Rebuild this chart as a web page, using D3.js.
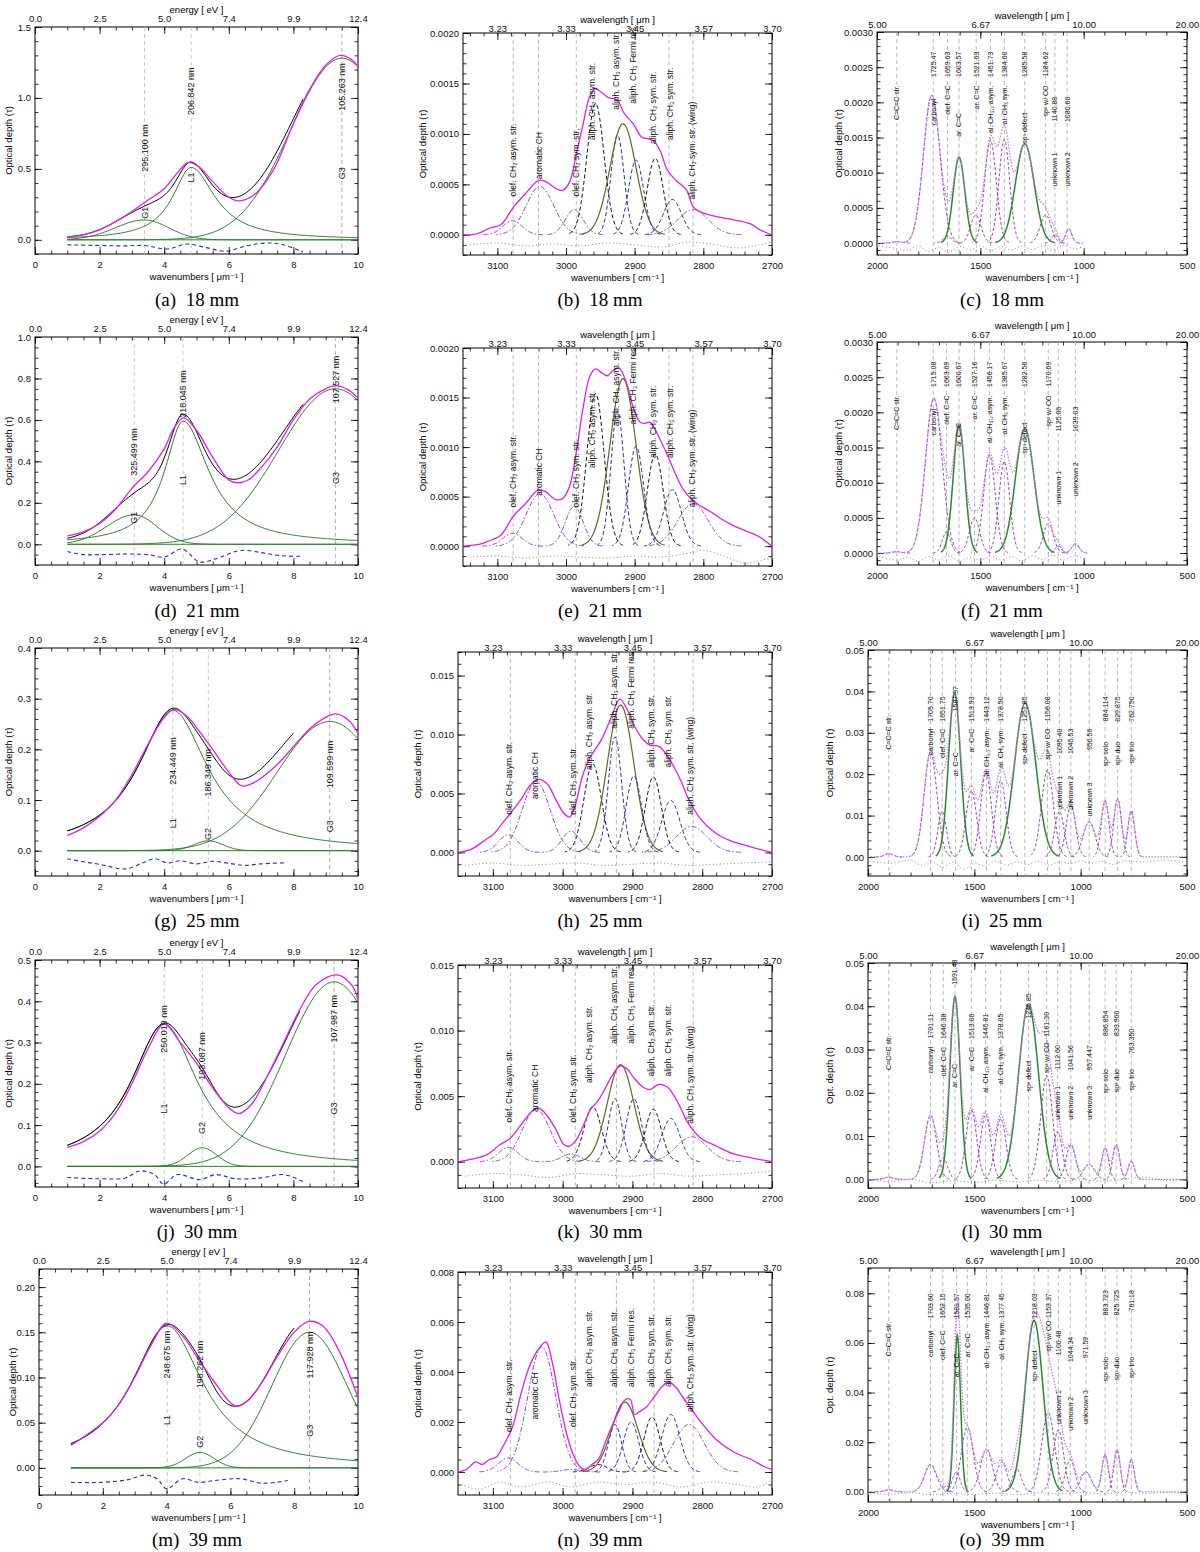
<!DOCTYPE html>
<html>
<head>
<meta charset="utf-8">
<script src="https://cdn.jsdelivr.net/npm/d3@7"></script>
<style>
  body { margin: 0; background: #fff; }
  .cap { font-family: "Liberation Serif", "DejaVu Serif", serif; font-size: 19px; }
</style>
</head>
<body>
<svg id="fig" width="1200" height="1552"></svg>
<script>
// ---------- column 1 : UV fits (x in 1/um) ----------
var uvTopVals = [0, 2, 4, 6, 8, 10];
var uvTopText = ["0.0", "2.5", "5.0", "7.4", "9.9", "12.4"];

// components: [type, centre, height, width(left), width(right)]
var aComp = [["G", 3.389, 0.14, 0.9, 0.75], ["L", 4.835, 0.51, 0.7, 0.9], ["G", 9.50, 1.28, 1.58]];
var aObs = [[1, 0.02], [1.5, 0.035], [2, 0.07], [2.5, 0.13], [3, 0.2], [3.4, 0.265], [4, 0.36], [4.4, 0.47], [4.75, 0.545], [5.1, 0.51], [5.5, 0.41], [6, 0.3], [6.3, 0.275], [6.8, 0.32], [7.4, 0.5], [8, 0.82], [8.5, 1.06], [9, 1.23], [9.45, 1.3], [9.8, 1.27], [10, 1.22]];
var aRes = [[1, -0.035], [2, -0.04], [2.8, -0.043], [3.4, -0.04], [4.1, -0.065], [4.7, -0.03], [5.3, -0.055], [5.9, -0.08], [6.5, -0.045], [7.1, -0.023], [7.6, -0.03], [8.3, -0.085]];
// marks: [x, wavelength label, name, label bottom, name centre]
var aMarks = [[3.389, "295.100 nm", "G1", 0.48, 0.19], [4.835, "206.842 nm", "L1", 0.88, 0.44], [9.50, "105.263 nm", "G3", 0.91, 0.47]];

var dComp = [["G", 3.072, 0.142, 0.85, 0.7], ["L", 4.586, 0.594, 0.7, 0.97], ["G", 9.30, 0.75, 1.75]];
var dObs = [[1, 0.04], [1.5, 0.06], [2, 0.1], [2.5, 0.17], [3, 0.27], [3.5, 0.35], [4, 0.46], [4.3, 0.56], [4.6, 0.61], [5, 0.55], [5.5, 0.42], [6, 0.31], [6.25, 0.297], [6.6, 0.31], [7, 0.37], [7.5, 0.47], [8, 0.6], [8.5, 0.7], [9, 0.75], [9.3, 0.765], [9.7, 0.745], [10, 0.705]];
var dRes = [[1, -0.035], [1.5, -0.05], [2, -0.05], [3, -0.047], [3.5, -0.05], [4, -0.062], [4.55, -0.023], [5.1, -0.085], [5.6, -0.07], [6.35, -0.03], [7, -0.04], [7.6, -0.055], [8.3, -0.058]];
var dMarks = [[3.072, "325.499 nm", "G1", 0.33, 0.128], [4.586, "218.045 nm", "L1", 0.61, 0.31], [9.30, "107.527 nm", "G3", 0.68, 0.32]];

var gComp = [["L", 4.265, 0.277, 1.32], ["G", 5.366, 0.0195, 0.45], ["G", 9.124, 0.255, 1.63]];
var gObs = [[1, 0.03], [1.5, 0.045], [2, 0.068], [2.5, 0.1], [3, 0.15], [3.5, 0.21], [4, 0.263], [4.3, 0.279], [4.7, 0.266], [5, 0.243], [5.5, 0.2], [6, 0.155], [6.4, 0.128], [6.8, 0.135], [7.5, 0.17], [8, 0.205], [8.5, 0.24], [9, 0.263], [9.3, 0.27], [9.7, 0.258], [10, 0.232]];
var gRes = [[1, -0.016], [1.5, -0.022], [2, -0.027], [2.8, -0.036], [3.3, -0.025], [3.7, -0.016], [4.1, -0.024], [4.5, -0.02], [5, -0.026], [5.5, -0.021], [6, -0.025], [6.5, -0.029], [7, -0.026], [7.8, -0.024]];
var gMarks = [[4.265, "234.449 nm", "L1", 0.13, 0.054], [5.366, "186.349 nm", "G2", 0.107, 0.033], [9.124, "109.599 nm", "G3", 0.123, 0.048]];

var jComp = [["L", 4.0, 0.345, 1.25], ["G", 5.179, 0.045, 0.45], ["G", 9.26, 0.447, 1.5]];
var jObs = [[1, 0.046], [1.5, 0.06], [2, 0.085], [2.5, 0.13], [3, 0.2], [3.5, 0.285], [4, 0.345], [4.5, 0.3], [5, 0.25], [5.5, 0.19], [6, 0.142], [6.3, 0.128], [6.7, 0.15], [7.2, 0.22], [7.7, 0.3], [8.2, 0.38], [8.7, 0.44], [9.35, 0.464], [9.8, 0.44], [10, 0.405]];
var jRes = [[1, -0.027], [2, -0.03], [2.8, -0.028], [3.25, -0.011], [3.7, -0.02], [3.98, -0.043], [4.4, -0.02], [5.1, -0.032], [5.6, -0.02], [6.2, -0.03], [7, -0.028], [7.7, -0.02], [8.3, -0.037]];
var jMarks = [[4.0, "250.019 nm", "L1", 0.275, 0.14], [5.179, "193.087 nm", "G2", 0.21, 0.093], [9.26, "107.987 nm", "G3", 0.30, 0.14]];

var mComp = [["L", 4.021, 0.157, 1.37], ["G", 5.044, 0.017, 0.45], ["G", 8.48, 0.15, 1.18]];
var mObs = [[1, 0.025], [2, 0.05], [2.5, 0.07], [3, 0.1], [3.5, 0.135], [4, 0.16], [4.5, 0.146], [5, 0.12], [5.5, 0.095], [6, 0.072], [6.2, 0.068], [6.6, 0.076], [7, 0.095], [7.5, 0.125], [8, 0.15], [8.45, 0.162], [8.9, 0.157], [9.4, 0.13], [10, 0.078]];
var mRes = [[1, -0.016], [2, -0.016], [2.8, -0.013], [3.3, -0.008], [3.7, -0.012], [4, -0.023], [4.5, -0.012], [5, -0.016], [5.5, -0.014], [6.3, -0.012], [7, -0.017], [7.8, -0.014]];
var mMarks = [[4.021, "248.675 nm", "L1", 0.099, 0.053], [5.044, "198.262 nm", "G2", 0.088, 0.029], [8.48, "117.928 nm", "G3", 0.099, 0.041]];

// ---------- column 2 : 3.4 um CH stretch region (cm-1) ----------
var chTopVals = [3100, 3000, 2900, 2800, 2700];
var chTopText = ["3.23", "3.33", "3.45", "3.57", "3.70"];
var chNames = ["olef. CH₂ asym. str.", "aromatic CH", "olef. CH₂ sym. str.", "aliph. CH₂ asym. str.", "aliph. CH₃ asym. str.", "aliph. CH₃ Fermi res.", "aliph. CH₂ sym. str.", "aliph. CH₃ sym. str.", "aliph. CH₂ sym. str. (wing)"];
var chNameX = [3077, 3040, 2985, 2962, 2927, 2902, 2873, 2849, 2817];
var chPos = [3078, 3038, 2988, 2957, 2925, 2917, 2898, 2870, 2845, 2815];
var nPos = [3078, 3030, 2988, 2949, 2925, 2911, 2902, 2872, 2845, 2819];
var chSig = [14, 20, 13, 12.5, 9.5, 19, 11, 11.5, 13, 22];
var chKind = ["pd", "pd", "pd", "kd", "bd", "ol", "bd", "kd", "bd", "pd"];
var chLinesA = [3077, 3040, 2985, 2850, 2815];
var chLinesB = [3075, 2982, 2923, 2869, 2813];

var bHeights = [0.00014, 0.00048, 0.00025, 0.0013, 0.00099, 0.0011, 0.00074, 0.00076, 0.00035, 0.00025];
var bObs = [[3150, 0], [3130, 0.00001], [3110, 0.00007], [3095, 0.0001], [3076, 0.00028], [3060, 0.0004], [3040, 0.00054], [3030, 0.00053], [3015, 0.00046], [3005, 0.00044], [2995, 0.00052], [2985, 0.0008], [2975, 0.0011], [2965, 0.00138], [2957, 0.00145], [2948, 0.00141], [2938, 0.00136], [2926, 0.00134], [2915, 0.0012], [2902, 0.0011], [2890, 0.00097], [2880, 0.00095], [2872, 0.00093], [2862, 0.00082], [2853, 0.00065], [2840, 0.00054], [2825, 0.00045], [2815, 0.00028], [2805, 0.00023], [2781, 0.00018], [2757, 0.00015], [2732, 0.00011], [2718, 0.00005], [2700, 0]];
var bRes = [[3140, -0.0001], [3100, -0.00008], [3060, -0.00011], [3020, -0.00009], [2980, -0.00011], [2940, -0.00008], [2900, -0.0001], [2860, -0.00012], [2820, -0.00007], [2790, -0.00009], [2750, -0.00013], [2720, -0.0001], [2700, -0.00007]];
var bNameY = [0.00038, 0.00055, 0.00038, 0.00094, 0.00124, 0.0013, 0.0009, 0.00094, 0.00035];

var eHeights = [0.00013, 0.00053, 0.0004, 0.00154, 0.00137, 0.00169, 0.00101, 0.00093, 0.00057, 0.00043];
var eObs = [[3150, 0], [3125, 0.00002], [3110, 0.00006], [3095, 0.00011], [3076, 0.00031], [3060, 0.00042], [3040, 0.00057], [3030, 0.00055], [3015, 0.00047], [3005, 0.00048], [2995, 0.0006], [2985, 0.00095], [2975, 0.0014], [2965, 0.00172], [2957, 0.00179], [2948, 0.00175], [2940, 0.00172], [2932, 0.00177], [2923, 0.0018], [2912, 0.00165], [2902, 0.0014], [2892, 0.00125], [2885, 0.00124], [2877, 0.00125], [2866, 0.00112], [2853, 0.00093], [2840, 0.00072], [2829, 0.00057], [2815, 0.00046], [2805, 0.00041], [2790, 0.00035], [2775, 0.00028], [2757, 0.00021], [2740, 0.00016], [2720, 0.0001], [2700, 0]];
var eRes = [[3140, -0.00011], [3100, -0.0001], [3060, -0.00012], [3020, -0.0001], [2980, -0.00011], [2940, -0.00012], [2900, -0.0001], [2860, -0.00011], [2815, -0.00006], [2800, -0.00004], [2770, -0.0001], [2740, -0.00017], [2700, -0.00011]];
var eNameY = [0.00039, 0.00051, 0.00039, 0.00079, 0.00121, 0.00123, 0.00089, 0.00089, 0.00039];

var hHeights = [0.0015, 0.006, 0.0018, 0.0075, 0.0098, 0.0125, 0.0065, 0.0064, 0.0044, 0.0022];
var hObs = [[3150, 0], [3130, 0.0003], [3110, 0.0011], [3100, 0.0015], [3086, 0.0025], [3062, 0.0043], [3045, 0.0058], [3034, 0.0062], [3022, 0.0058], [3010, 0.0045], [2998, 0.0033], [2990, 0.003], [2982, 0.004], [2972, 0.0064], [2963, 0.0078], [2955, 0.0086], [2945, 0.0095], [2930, 0.0115], [2918, 0.013], [2905, 0.0118], [2897, 0.0107], [2885, 0.0096], [2875, 0.0091], [2862, 0.009], [2850, 0.0082], [2840, 0.0072], [2830, 0.006], [2821, 0.0047], [2802, 0.0028], [2780, 0.0016], [2760, 0.001], [2732, 0.0005], [2700, 0]];
var hRes = [[3140, -0.0011], [3100, -0.0009], [3060, -0.0011], [3020, -0.001], [2980, -0.0009], [2940, -0.0011], [2900, -0.001], [2860, -0.0009], [2820, -0.0011], [2780, -0.001], [2740, -0.0009], [2700, -0.0008]];
var hNameY = [0.0032, 0.0045, 0.0032, 0.007, 0.0105, 0.0105, 0.0072, 0.0072, 0.0032];

var kHeights = [0.0011, 0.004, 0.0006, 0.0042, 0.0048, 0.0074, 0.0048, 0.004, 0.0033, 0.0019];
var kObs = [[3150, 0], [3130, 0.0002], [3110, 0.0005], [3090, 0.0013], [3075, 0.0018], [3060, 0.0028], [3045, 0.0038], [3036, 0.0041], [3025, 0.0037], [3010, 0.0025], [2998, 0.0013], [2990, 0.0012], [2980, 0.0017], [2970, 0.0028], [2960, 0.004], [2950, 0.0046], [2940, 0.0055], [2930, 0.0065], [2918, 0.0073], [2908, 0.0071], [2898, 0.0064], [2885, 0.0057], [2875, 0.0055], [2862, 0.0059], [2850, 0.0057], [2840, 0.005], [2830, 0.004], [2821, 0.003], [2802, 0.0018], [2780, 0.0012], [2755, 0.0006], [2730, 0.0003], [2700, 0]];
var kRes = [[3140, -0.0011], [3100, -0.0009], [3060, -0.001], [3020, -0.0012], [2980, -0.0009], [2940, -0.001], [2900, -0.0011], [2860, -0.0009], [2820, -0.0011], [2780, -0.001], [2740, -0.0009], [2700, -0.0007]];
var kNameY = [0.003, 0.0038, 0.003, 0.006, 0.009, 0.009, 0.0065, 0.0065, 0.0029];

var nHeights = [0.00056, 0.005, 0.0001, 0.0003, 0.0019, 0.0028, 0.002, 0.0022, 0.0023, 0.0019];
var nObs = [[3150, 0], [3138, 0.0001], [3125, 0.0004], [3115, 0.0003], [3105, 0.0005], [3095, 0.0006], [3086, 0.001], [3072, 0.0018], [3060, 0.0031], [3048, 0.0042], [3035, 0.0049], [3024, 0.0052], [3015, 0.0044], [3005, 0.0029], [2995, 0.0016], [2985, 0.0007], [2975, 0.0002], [2968, 0.0001], [2958, 0.0003], [2949, 0.0005], [2940, 0.0011], [2930, 0.0018], [2920, 0.0024], [2910, 0.0029], [2903, 0.0029], [2897, 0.0023], [2891, 0.0024], [2880, 0.0026], [2869, 0.003], [2858, 0.0034], [2848, 0.0036], [2838, 0.0034], [2828, 0.003], [2815, 0.0025], [2802, 0.002], [2780, 0.0013], [2755, 0.0008], [2730, 0.0005], [2710, 0.0002], [2700, 0.0001]];
var nRes = [[3145, -0.0005], [3120, -0.0007], [3090, -0.0004], [3060, -0.0006], [3020, -0.0004], [2990, -0.0006], [2950, -0.0004], [2910, -0.0005], [2870, -0.0004], [2830, -0.0006], [2790, -0.0004], [2750, -0.0005], [2720, -0.0006], [2700, -0.0003]];
var nNameY = [0.0016, 0.0021, 0.0018, 0.0034, 0.0034, 0.0034, 0.0034, 0.0034, 0.0024];

// ---------- column 3 : 5-20 um region (cm-1) ----------
var irTopVals = [2000, 1500, 1000, 500];
var irTopText = ["5.00", "6.67", "10.00", "20.00"];
// components: [centre, height, sigma, green?]
var cComp = [[1904, 0.00002, 20, 0], [1735, 0.0021, 40, 0], [1660, 0.0001, 20, 0], [1603, 0.00122, 28, 1], [1522, 0.0004, 25, 0], [1451, 0.00146, 28, 0], [1384, 0.00147, 26, 0], [1285, 0.00141, 45, 1], [1184, 0.0004, 26, 0], [1139, 0.00012, 15, 0], [1072, 0.0002, 15, 0]];
var cRes = [[1990, -0.00004], [1900, -0.00008], [1850, -0.0001], [1800, -0.00004], [1750, -0.00012], [1700, -0.00006], [1650, -0.00013], [1600, -0.00005], [1550, -0.0001], [1500, -0.00004], [1450, -0.00011], [1400, -0.00005], [1350, -0.0001], [1300, -0.00004], [1250, -0.00009], [1200, -0.00004], [1150, -0.0001], [1100, -0.00003], [1050, -0.00008], [1000, -0.00005]];
// labels: [x, number, name, number top, name top]
var cLab = [[1904, "", "C=C=C str.", 0, 0.00224], [1728, "1725.47", "carbonyl", 0.00272, 0.00205], [1659, "1659.63", "olef. C=C", 0.00272, 0.00224], [1603, "1603.57", "ar. C=C", 0.00272, 0.00185], [1520, "1521.63", "ar. C=C", 0.00272, 0.00224], [1451, "1451.73", "al. CH₃,₂ asym.", 0.00272, 0.00224], [1384, "1384.60", "al. CH₃ sym.", 0.00272, 0.00224], [1285, "1285.58", "sp³ defect", 0.00272, 0.00185], [1184, "1184.62", "sp² w/ CO", 0.00272, 0.00224], [1139, "1140.88", "unknown 1", 0.00208, 0.00129], [1080, "1080.60", "unknown 2", 0.00208, 0.00129]];

var fComp = [[1904, 0.00002, 20, 0], [1725, 0.0022, 40, 0], [1664, 0.0003, 20, 0], [1603, 0.00182, 28, 1], [1528, 0.0005, 25, 0], [1456, 0.00139, 28, 0], [1384, 0.0013, 26, 0], [1285, 0.00177, 45, 1], [1171, 0.00042, 24, 0], [1123, 0.0001, 15, 0], [1040, 0.00013, 18, 0]];
var fRes = [[1990, -0.00005], [1900, -0.0001], [1850, -0.00006], [1800, -0.00012], [1750, -0.00005], [1700, -0.0001], [1650, -0.00004], [1600, -0.00012], [1550, -0.00006], [1500, -0.0001], [1450, -0.00004], [1400, -0.0001], [1350, -0.00005], [1300, -0.00011], [1250, -0.00004], [1200, -0.00009], [1150, -0.00003], [1100, -0.0001], [1050, -0.00004], [1000, -0.00007]];
var fLab = [[1904, "", "C=C=C str.", 0, 0.00224], [1728, "1715.08", "carbonyl", 0.00272, 0.00205], [1664, "1663.69", "olef. C=C", 0.00272, 0.00224], [1603, "1600.67", "ar. C=C", 0.00272, 0.00185], [1528, "1527.16", "ar. C=C", 0.00272, 0.00224], [1456, "1456.17", "al. CH₃,₂ asym.", 0.00272, 0.00224], [1384, "1385.67", "al. CH₃ sym.", 0.00272, 0.00224], [1285, "1282.56", "sp³ defect", 0.00272, 0.00185], [1171, "1170.69", "sp² w/ CO", 0.00272, 0.00224], [1123, "1125.06", "unknown 1", 0.00208, 0.00117], [1040, "1039.03", "unknown 2", 0.00208, 0.00129]];

var iComp = [[1902, 0.0008, 20, 0], [1706, 0.0253, 30, 0], [1651, 0.011, 20, 0], [1593, 0.0396, 28, 1], [1514, 0.016, 25, 0], [1445, 0.0205, 25, 0], [1376, 0.0185, 25, 0], [1261, 0.0372, 50, 1], [1156, 0.021, 28, 0], [1100, 0.011, 22, 0], [1046, 0.0125, 22, 0], [960, 0.0085, 28, 0], [885, 0.0135, 18, 0], [826, 0.014, 18, 0], [762, 0.0112, 16, 0]];
var iRes = [[1990, -0.001], [1900, -0.0015], [1800, -0.0008], [1750, -0.002], [1700, -0.001], [1650, -0.0025], [1600, -0.0012], [1550, -0.003], [1500, -0.0015], [1450, -0.0022], [1400, -0.001], [1350, -0.002], [1300, -0.0012], [1250, -0.0018], [1200, -0.001], [1150, -0.002], [1100, -0.0012], [1050, -0.0016], [1000, -0.001], [950, -0.0015], [900, -0.001], [850, -0.0018], [800, -0.001], [700, -0.0012], [600, -0.0008], [520, -0.0012]];
var iLab = [[1902, "", "C=C=C str.", 0, 0.0343], [1706, "1705.70", "carbonyl", 0.0388, 0.031], [1651, "1651.75", "olef. C=C", 0.0388, 0.031], [1588, "1587.97", "ar. C=C", 0.0413, 0.0253], [1514, "1513.93", "ar. C=C", 0.0388, 0.031], [1443, "1443.12", "al. CH₃,₂ asym.", 0.0388, 0.031], [1376, "1378.50", "al. CH₃ sym.", 0.0388, 0.031], [1263, "1251.85", "sp³ defect", 0.0388, 0.0298], [1156, "1156.08", "sp² w/ CO", 0.0388, 0.031], [1100, "1095.40", "unknown 1", 0.031, 0.0196], [1046, "1045.53", "unknown 2", 0.031, 0.0196], [960, "956.56", "unknown 3", 0.031, 0.018], [885, "884.114", "sp² solo", 0.0388, 0.0278], [826, "829.875", "sp² duo", 0.0388, 0.0278], [762, "762.750", "sp² trio", 0.0388, 0.0278]];

var lComp = [[1902, 0.0005, 20, 0], [1706, 0.0148, 28, 0], [1646, 0.005, 20, 0], [1591, 0.0422, 24, 1], [1514, 0.016, 25, 0], [1447, 0.015, 24, 0], [1376, 0.014, 25, 0], [1245, 0.0403, 47, 1], [1160, 0.024, 28, 0], [1108, 0.011, 22, 0], [1046, 0.008, 22, 0], [960, 0.0035, 25, 0], [885, 0.0072, 16, 0], [833, 0.008, 16, 0], [762, 0.0042, 15, 0]];
var lRes = [[1990, 0], [1900, -0.0005], [1800, 0], [1700, -0.0008], [1600, -0.0003], [1500, -0.0007], [1400, -0.0002], [1300, -0.0006], [1200, -0.0002], [1100, -0.0005], [1000, -0.0001], [900, -0.0004], [800, 0], [700, 0.0005], [650, 0.0002], [600, -0.0003], [520, 0]];
var lLab = [[1902, "", "C=C=C str.", 0, 0.0333], [1706, "1701.11", "carbonyl", 0.0383, 0.0306], [1646, "1646.38", "olef. C=C", 0.0383, 0.0306], [1591, "1591.48", "ar. C=C", 0.0508, 0.0267], [1514, "1513.06", "ar. C=C", 0.0383, 0.0306], [1447, "1445.81", "al. CH₃,₂ asym.", 0.0383, 0.031], [1376, "1378.05", "al. CH₃ sym.", 0.0383, 0.031], [1245, "1245.85", "sp³ defect", 0.043, 0.0274], [1160, "1161.30", "sp² w/ CO", 0.0387, 0.0317], [1108, "1112.60", "unknown 1", 0.031, 0.0216], [1046, "1041.56", "unknown 2", 0.031, 0.0216], [960, "957.447", "unknown 3", 0.031, 0.0216], [885, "886.854", "sp² solo", 0.039, 0.0255], [833, "833.960", "sp² duo", 0.039, 0.0255], [762, "763.350", "sp² trio", 0.0348, 0.0255]];

var oComp = [[1902, 0.0008, 20, 0], [1706, 0.011, 28, 0], [1648, 0.002, 15, 0], [1580, 0.063, 15, 1], [1585, 0.008, 18, 0], [1533, 0.026, 28, 0], [1443, 0.017, 28, 0], [1371, 0.012, 25, 0], [1300, 0.009, 22, 0], [1219, 0.069, 42, 1], [1153, 0.032, 30, 0], [1105, 0.025, 25, 0], [1049, 0.013, 22, 0], [975, 0.008, 25, 0], [885, 0.015, 15, 0], [829, 0.017, 15, 0], [762, 0.013, 14, 0]];
var oRes = [[1990, -0.0005], [1900, -0.001], [1800, -0.0004], [1700, -0.0012], [1600, -0.0006], [1500, -0.001], [1400, -0.0005], [1300, -0.0011], [1200, -0.0004], [1100, -0.0009], [1000, -0.0003], [900, -0.0008], [800, -0.0002], [700, -0.0006], [600, -0.0003], [520, -0.0005]];
var oLab = [[1902, "", "C=C=C str.", 0, 0.0685], [1706, "1703.60", "carbonyl", 0.08, 0.065], [1648, "1652.15", "olef. C=C", 0.08, 0.065], [1583, "1581.57", "ar. C=C", 0.08, 0.0558], [1533, "1535.00", "ar. C=C", 0.08, 0.0638], [1443, "1446.81", "al. CH₃,₂ asym.", 0.08, 0.069], [1371, "1377.45", "al. CH₃ sym.", 0.08, 0.069], [1219, "1218.03", "sp³ defect", 0.08, 0.057], [1153, "1153.37", "sp² w/ CO", 0.08, 0.069], [1105, "1100.48", "unknown 1", 0.065, 0.041], [1049, "1044.34", "unknown 2", 0.0625, 0.0383], [975, "971.59", "unknown 3", 0.0625, 0.041], [885, "883.723", "sp² solo", 0.0813, 0.0544], [829, "825.725", "sp² duo", 0.0813, 0.0544], [762, "761.18", "sp² trio", 0.0813, 0.0544]];

// ---------- drawing ----------
var FONT = "Liberation Sans, DejaVu Sans, sans-serif";
var MAGENTA = "#e021e0", GREEN = "#2f7f2f";
var svg = d3.select("#fig");
var clipN = 0;

// gaussian / lorentzian profile, optionally with different left and right widths
function prof(c, v) {
  var t = c[0], x0 = c[1], h = c[2];
  var s = (c.length > 4 && v >= x0) ? c[4] : c[3];
  if (t === "L") { var u = (v - x0) / s; return h / (1 + u * u); }
  return h * Math.exp(-(v - x0) * (v - x0) / (2 * s * s));
}

function steps(dom, st) {
  var lo = Math.min(dom[0], dom[1]), hi = Math.max(dom[0], dom[1]), out = [];
  for (var k = Math.ceil(lo / st - 1e-9); k <= Math.floor(hi / st + 1e-9); k++) out.push(+(k * st).toFixed(8));
  return out;
}

function frame(b, o) {
  var x0 = b[0], y0 = b[1], x1 = b[2], y1 = b[3];
  var g = svg.append("g");
  var x = d3.scaleLinear().domain(o.xdom).range([x0, x1]);
  var y = d3.scaleLinear().domain(o.ydom).range([y1, y0]);
  var xm = steps(o.xdom, o.xStep), ym = steps(o.ydom, o.yStep);
  function tidy(s) {
    s.attr("font-family", FONT).attr("font-size", 9.5);
    s.select(".domain").remove();
    s.selectAll("line").attr("stroke", "#000").attr("stroke-width", 0.8);
    s.selectAll("text").attr("fill", "#111");
  }
  function ax(gen, tx, ty) { g.append("g").attr("transform", "translate(" + tx + "," + ty + ")").call(gen).call(tidy); }
  ax(d3.axisBottom(x).tickValues(o.xMajor).tickSize(-7).tickPadding(7).tickFormat(d3.format("d")), 0, y1);
  ax(d3.axisBottom(x).tickValues(xm).tickSize(-3.5).tickFormat(""), 0, y1);
  ax(d3.axisTop(x).tickValues(o.topVals).tickSize(-7).tickPadding(o.topPad).tickFormat(function (d, i) { return o.topText[i]; }), 0, y0);
  ax(d3.axisTop(x).tickValues(xm).tickSize(-3.5).tickFormat(""), 0, y0);
  ax(d3.axisLeft(y).tickValues(o.yMajor).tickSize(-7).tickPadding(4).tickFormat(d3.format(o.yFmt)), x0, 0);
  ax(d3.axisLeft(y).tickValues(ym).tickSize(-3.5).tickFormat(""), x0, 0);
  ax(d3.axisRight(y).tickValues(o.yMajor).tickSize(-7).tickFormat(""), x1, 0);
  ax(d3.axisRight(y).tickValues(ym).tickSize(-3.5).tickFormat(""), x1, 0);
  g.append("rect").attr("x", x0).attr("y", y0).attr("width", x1 - x0).attr("height", y1 - y0)
    .attr("fill", "none").attr("stroke", "#000").attr("stroke-width", 1);
  g.append("text").attr("x", (x0 + x1) / 2).attr("y", y1 + 26).attr("text-anchor", "middle")
    .attr("font-family", FONT).attr("font-size", 9.5).text(o.xTitle);
  g.append("text").attr("x", (x0 + x1) / 2).attr("y", y0 - o.topTitleOff).attr("text-anchor", "middle")
    .attr("font-family", FONT).attr("font-size", 9.5).text(o.topTitle);
  g.append("text").attr("transform", "translate(" + (x0 - o.yTitleOff) + "," + ((y0 + y1) / 2) + ") rotate(-90)")
    .attr("text-anchor", "middle").attr("dy", "0.35em").attr("font-family", FONT).attr("font-size", 9.5).text(o.yTitle);
  var id = "clip" + (clipN++);
  svg.append("clipPath").attr("id", id).append("rect").attr("x", x0).attr("y", y0).attr("width", x1 - x0).attr("height", y1 - y0);
  var plot = g.append("g").attr("clip-path", "url(#" + id + ")");
  return { g: g, plot: plot, x: x, y: y };
}

function vline(sel, px, b, col) {
  sel.append("line").attr("x1", px).attr("x2", px).attr("y1", b[1]).attr("y2", b[3])
    .attr("stroke", col || "#a8a8a8").attr("stroke-width", 0.8).attr("stroke-dasharray", "4,3");
}

function vtext(sel, px, py, txt, anchor, size) {
  sel.append("text").attr("transform", "translate(" + px + "," + py + ") rotate(-90)")
    .attr("dy", "0.35em").attr("text-anchor", anchor).attr("font-family", FONT).attr("font-size", size)
    .attr("fill", "#111").text(txt);
}

function caption(cx, cy, txt) {
  svg.append("text").attr("class", "cap").attr("x", cx).attr("y", cy).attr("text-anchor", "middle").text(txt);
}

// ----- column 1 -----
var uvPanels = [
  { box: [35, 27, 358, 254], ydom: [-0.1, 1.5], yMajor: [0, 0.5, 1, 1.5], yStep: 0.1, fmt: ".1f", comp: aComp, obs: aObs, res: aRes, marks: aMarks, fitEnd: 8.3, cap: "(a)\u00a0 18 mm", capY: 306 },
  { box: [35, 337, 358, 565], ydom: [-0.1, 1.0], yMajor: [0, 0.2, 0.4, 0.6, 0.8, 1.0], yStep: 0.05, fmt: ".1f", comp: dComp, obs: dObs, res: dRes, marks: dMarks, fitEnd: 8.3, cap: "(d)\u00a0 21 mm", capY: 617 },
  { box: [35, 648, 358, 876], ydom: [-0.05, 0.4], yMajor: [0, 0.1, 0.2, 0.3, 0.4], yStep: 0.02, fmt: ".1f", comp: gComp, obs: gObs, res: gRes, marks: gMarks, fitEnd: 8.0, cap: "(g)\u00a0 25 mm", capY: 927 },
  { box: [35, 960, 358, 1187], ydom: [-0.05, 0.5], yMajor: [0, 0.1, 0.2, 0.3, 0.4, 0.5], yStep: 0.02, fmt: ".1f", comp: jComp, obs: jObs, res: jRes, marks: jMarks, fitEnd: 8.2, cap: "(j)\u00a0 30 mm", capY: 1238 },
  { box: [39, 1269, 358, 1495], ydom: [-0.03, 0.22], yMajor: [0, 0.05, 0.1, 0.15, 0.2], yStep: 0.01, fmt: ".2f", comp: mComp, obs: mObs, res: mRes, marks: mMarks, fitEnd: 8.0, cap: "(m)\u00a0 39 mm", capY: 1546 }
];

uvPanels.forEach(function (P) {
  var F = frame(P.box, {
    xdom: [0, 10], ydom: P.ydom, xMajor: [0, 2, 4, 6, 8, 10], xStep: 0.5, yMajor: P.yMajor, yStep: P.yStep, yFmt: P.fmt,
    topVals: uvTopVals, topText: uvTopText, topPad: 5, topTitleOff: 14, topTitle: "energy [ eV ]",
    xTitle: "wavenumbers [ μm⁻¹ ]", yTitle: "Optical depth (τ)", yTitleOff: 26
  });
  var x = F.x, y = F.y, pg = F.plot;
  var line = d3.line().x(function (d) { return x(d[0]); }).y(function (d) { return y(d[1]); });
  var smooth = d3.line().curve(d3.curveCatmullRom.alpha(0.5)).x(function (d) { return x(d[0]); }).y(function (d) { return y(d[1]); });
  P.marks.forEach(function (m, i) { vline(pg, x(m[0]), P.box, i === 2 ? "#9a9a9a" : "#bdbdbd"); });
  var xs = d3.range(1, 10.001, 0.05);
  P.comp.forEach(function (c) {
    pg.append("path").attr("d", line(xs.map(function (v) { return [v, prof(c, v)]; })))
      .attr("fill", "none").attr("stroke", GREEN).attr("stroke-width", 1);
  });
  pg.append("path").attr("d", line([[1, 0], [10, 0]])).attr("fill", "none").attr("stroke", GREEN).attr("stroke-width", 1);
  var fx = d3.range(1, P.fitEnd + 0.001, 0.05);
  pg.append("path").attr("d", line(fx.map(function (v) { return [v, d3.sum(P.comp, function (c) { return prof(c, v); })]; })))
    .attr("fill", "none").attr("stroke", "#000").attr("stroke-width", 1);
  pg.append("path").attr("d", smooth(P.obs)).attr("fill", "none").attr("stroke", MAGENTA).attr("stroke-width", 1.3);
  pg.append("path").attr("d", smooth(P.res)).attr("fill", "none").attr("stroke", "#1f2fd0")
    .attr("stroke-width", 1.1).attr("stroke-dasharray", "4,3");
  P.marks.forEach(function (m) {
    vtext(F.g, x(m[0]), y(m[3]), m[1], "start", 9);
    vtext(F.g, x(m[0]), y(m[4]), m[2], "middle", 9);
  });
  caption(197, P.capY, P.cap);
});

// ----- column 2 -----
var chStroke = { pd: ["#8f3fc4", "5,2,1.5,2", 1], kd: ["#111", "4,2.5", 1], bd: ["#1f2fbf", "4,2.5", 1], ol: ["#5d6b1f", null, 1.2] };
var chPanels = [
  { box: [463, 33, 772, 255], ydom: [-0.0002, 0.002], yMajor: [0, 0.0005, 0.001, 0.0015, 0.002], yStep: 0.0001, fmt: ".4f", pos: chPos, hts: bHeights, obs: bObs, res: bRes, nameY: bNameY, lines: chLinesA, cap: "(b)\u00a0 18 mm", capY: 306 },
  { box: [463, 348, 772, 566], ydom: [-0.0002, 0.002], yMajor: [0, 0.0005, 0.001, 0.0015, 0.002], yStep: 0.0001, fmt: ".4f", pos: chPos, hts: eHeights, obs: eObs, res: eRes, nameY: eNameY, lines: chLinesA, cap: "(e)\u00a0 21 mm", capY: 617 },
  { box: [458, 652, 772, 876], ydom: [-0.002, 0.017], yMajor: [0, 0.005, 0.01, 0.015], yStep: 0.001, fmt: ".3f", pos: chPos, hts: hHeights, obs: hObs, res: hRes, nameY: hNameY, lines: chLinesB, cap: "(h)\u00a0 25 mm", capY: 927 },
  { box: [458, 965, 772, 1188], ydom: [-0.002, 0.015], yMajor: [0, 0.005, 0.01, 0.015], yStep: 0.001, fmt: ".3f", pos: chPos, hts: kHeights, obs: kObs, res: kRes, nameY: kNameY, lines: chLinesB, cap: "(k)\u00a0 30 mm", capY: 1238 },
  { box: [458, 1272, 772, 1495], ydom: [-0.00092, 0.008], yMajor: [0, 0.002, 0.004, 0.006, 0.008], yStep: 0.0005, fmt: ".3f", pos: nPos, hts: nHeights, obs: nObs, res: nRes, nameY: nNameY, lines: chLinesB, cap: "(n)\u00a0 39 mm", capY: 1546 }
];

chPanels.forEach(function (P) {
  var F = frame(P.box, {
    xdom: [3150, 2700], ydom: P.ydom, xMajor: [3100, 3000, 2900, 2800, 2700], xStep: 20, yMajor: P.yMajor, yStep: P.yStep, yFmt: P.fmt,
    topVals: chTopVals, topText: chTopText, topPad: 1.5, topTitleOff: 10, topTitle: "wavelength [ μm ]",
    xTitle: "wavenumbers [ cm⁻¹ ]", yTitle: "Optical depth (τ)", yTitleOff: 40
  });
  var x = F.x, y = F.y, pg = F.plot;
  var line = d3.line().x(function (d) { return x(d[0]); }).y(function (d) { return y(d[1]); });
  var smooth = d3.line().curve(d3.curveCatmullRom.alpha(0.5)).x(function (d) { return x(d[0]); }).y(function (d) { return y(d[1]); });
  P.lines.forEach(function (v) { vline(pg, x(v), P.box); });
  pg.append("path").attr("d", smooth(P.res)).attr("fill", "none").attr("stroke", "#8a8a8a")
    .attr("stroke-width", 1).attr("stroke-dasharray", "1,2.5");
  P.pos.forEach(function (c, i) {
    var s = chSig[i], st = chStroke[chKind[i]], c3 = ["G", c, P.hts[i], s];
    var xs = d3.range(c - 3.2 * s, c + 3.2 * s + 0.01, 1);
    var p = pg.append("path").attr("d", line(xs.map(function (v) { return [v, prof(c3, v)]; })))
      .attr("fill", "none").attr("stroke", st[0]).attr("stroke-width", st[2]);
    if (st[1]) p.attr("stroke-dasharray", st[1]);
  });
  pg.append("path").attr("d", smooth(P.obs)).attr("fill", "none").attr("stroke", MAGENTA).attr("stroke-width", 1.3);
  chNames.forEach(function (t, i) { vtext(F.g, x(chNameX[i]), y(P.nameY[i]), t, "start", 8.5); });
  caption(600, P.capY, P.cap);
});

// ----- column 3 -----
var irPanels = [
  { box: [877, 32, 1187, 255], ydom: [-0.00017, 0.003], yMajor: [0, 0.0005, 0.001, 0.0015, 0.002, 0.0025, 0.003], yStep: 0.0001, fmt: ".4f", comp: cComp, res: cRes, lab: cLab, xEnd: 1000, yt: "Optical depth (τ)", cap: "(c)\u00a0 18 mm", capY: 306 },
  { box: [877, 342, 1187, 565], ydom: [-0.00017, 0.003], yMajor: [0, 0.0005, 0.001, 0.0015, 0.002, 0.0025, 0.003], yStep: 0.0001, fmt: ".4f", comp: fComp, res: fRes, lab: fLab, xEnd: 1000, yt: "Optical depth (τ)", cap: "(f)\u00a0 21 mm", capY: 617 },
  { box: [868, 650, 1187, 876], ydom: [-0.0046, 0.05], yMajor: [0, 0.01, 0.02, 0.03, 0.04, 0.05], yStep: 0.002, fmt: ".2f", comp: iComp, res: iRes, lab: iLab, xEnd: 500, yt: "Optical depth (τ)", cap: "(i)\u00a0 25 mm", capY: 927 },
  { box: [868, 963, 1187, 1188], ydom: [-0.002, 0.05], yMajor: [0, 0.01, 0.02, 0.03, 0.04, 0.05], yStep: 0.002, fmt: ".2f", comp: lComp, res: lRes, lab: lLab, xEnd: 500, yt: "Opt. depth (τ)", cap: "(l)\u00a0 30 mm", capY: 1238 },
  { box: [868, 1268, 1187, 1502], ydom: [-0.0041, 0.0902], yMajor: [0, 0.02, 0.04, 0.06, 0.08], yStep: 0.005, fmt: ".2f", comp: oComp, res: oRes, lab: oLab, xEnd: 500, yt: "Opt. depth (τ)", cap: "(o)\u00a0 39 mm", capY: 1546 }
];

irPanels.forEach(function (P) {
  var F = frame(P.box, {
    xdom: [2000, 500], ydom: P.ydom, xMajor: [2000, 1500, 1000, 500], xStep: 100, yMajor: P.yMajor, yStep: P.yStep, yFmt: P.fmt,
    topVals: irTopVals, topText: irTopText, topPad: 4.5, topTitleOff: 13, topTitle: "wavelength [ μm ]",
    xTitle: "wavenumbers [ cm⁻¹ ]", yTitle: P.yt, yTitleOff: 38
  });
  var x = F.x, y = F.y, pg = F.plot;
  var line = d3.line().x(function (d) { return x(d[0]); }).y(function (d) { return y(d[1]); });
  var smooth = d3.line().curve(d3.curveCatmullRom.alpha(0.5)).x(function (d) { return x(d[0]); }).y(function (d) { return y(d[1]); });
  P.lab.forEach(function (l) { vline(pg, x(l[0]), P.box); });
  pg.append("path").attr("d", smooth(P.res)).attr("fill", "none").attr("stroke", "#8a8a8a")
    .attr("stroke-width", 1).attr("stroke-dasharray", "1,2.5");
  var tot = d3.range(2000, P.xEnd - 0.01, -4).map(function (v) {
    return [v, d3.sum(P.comp, function (c) { return prof(["G", c[0], c[1], c[2]], v); })];
  });
  P.comp.forEach(function (c) {
    var s = c[2], xs = d3.range(c[0] - 3.2 * s, c[0] + 3.2 * s + 0.01, 2);
    var p = pg.append("path").attr("d", line(xs.map(function (v) { return [v, prof(["G", c[0], c[1], s], v)]; })))
      .attr("fill", "none");
    if (c[3]) p.attr("stroke", "#2a8a2a").attr("stroke-width", 1.5);
    else p.attr("stroke", "#9040c0").attr("stroke-width", 1).attr("stroke-dasharray", "3,2");
  });
  pg.append("path").attr("d", line(tot)).attr("fill", "none").attr("stroke", "#c27ae6")
    .attr("stroke-width", 1.3).attr("stroke-dasharray", "1.5,1.5");
  P.lab.forEach(function (l) {
    if (l[1]) vtext(F.g, x(l[0]), y(l[3]), l[1], "end", 7);
    vtext(F.g, x(l[0]), y(l[4]), l[2], "end", 7);
  });
  caption(1002, P.capY, P.cap);
});
</script>
</body>
</html>
